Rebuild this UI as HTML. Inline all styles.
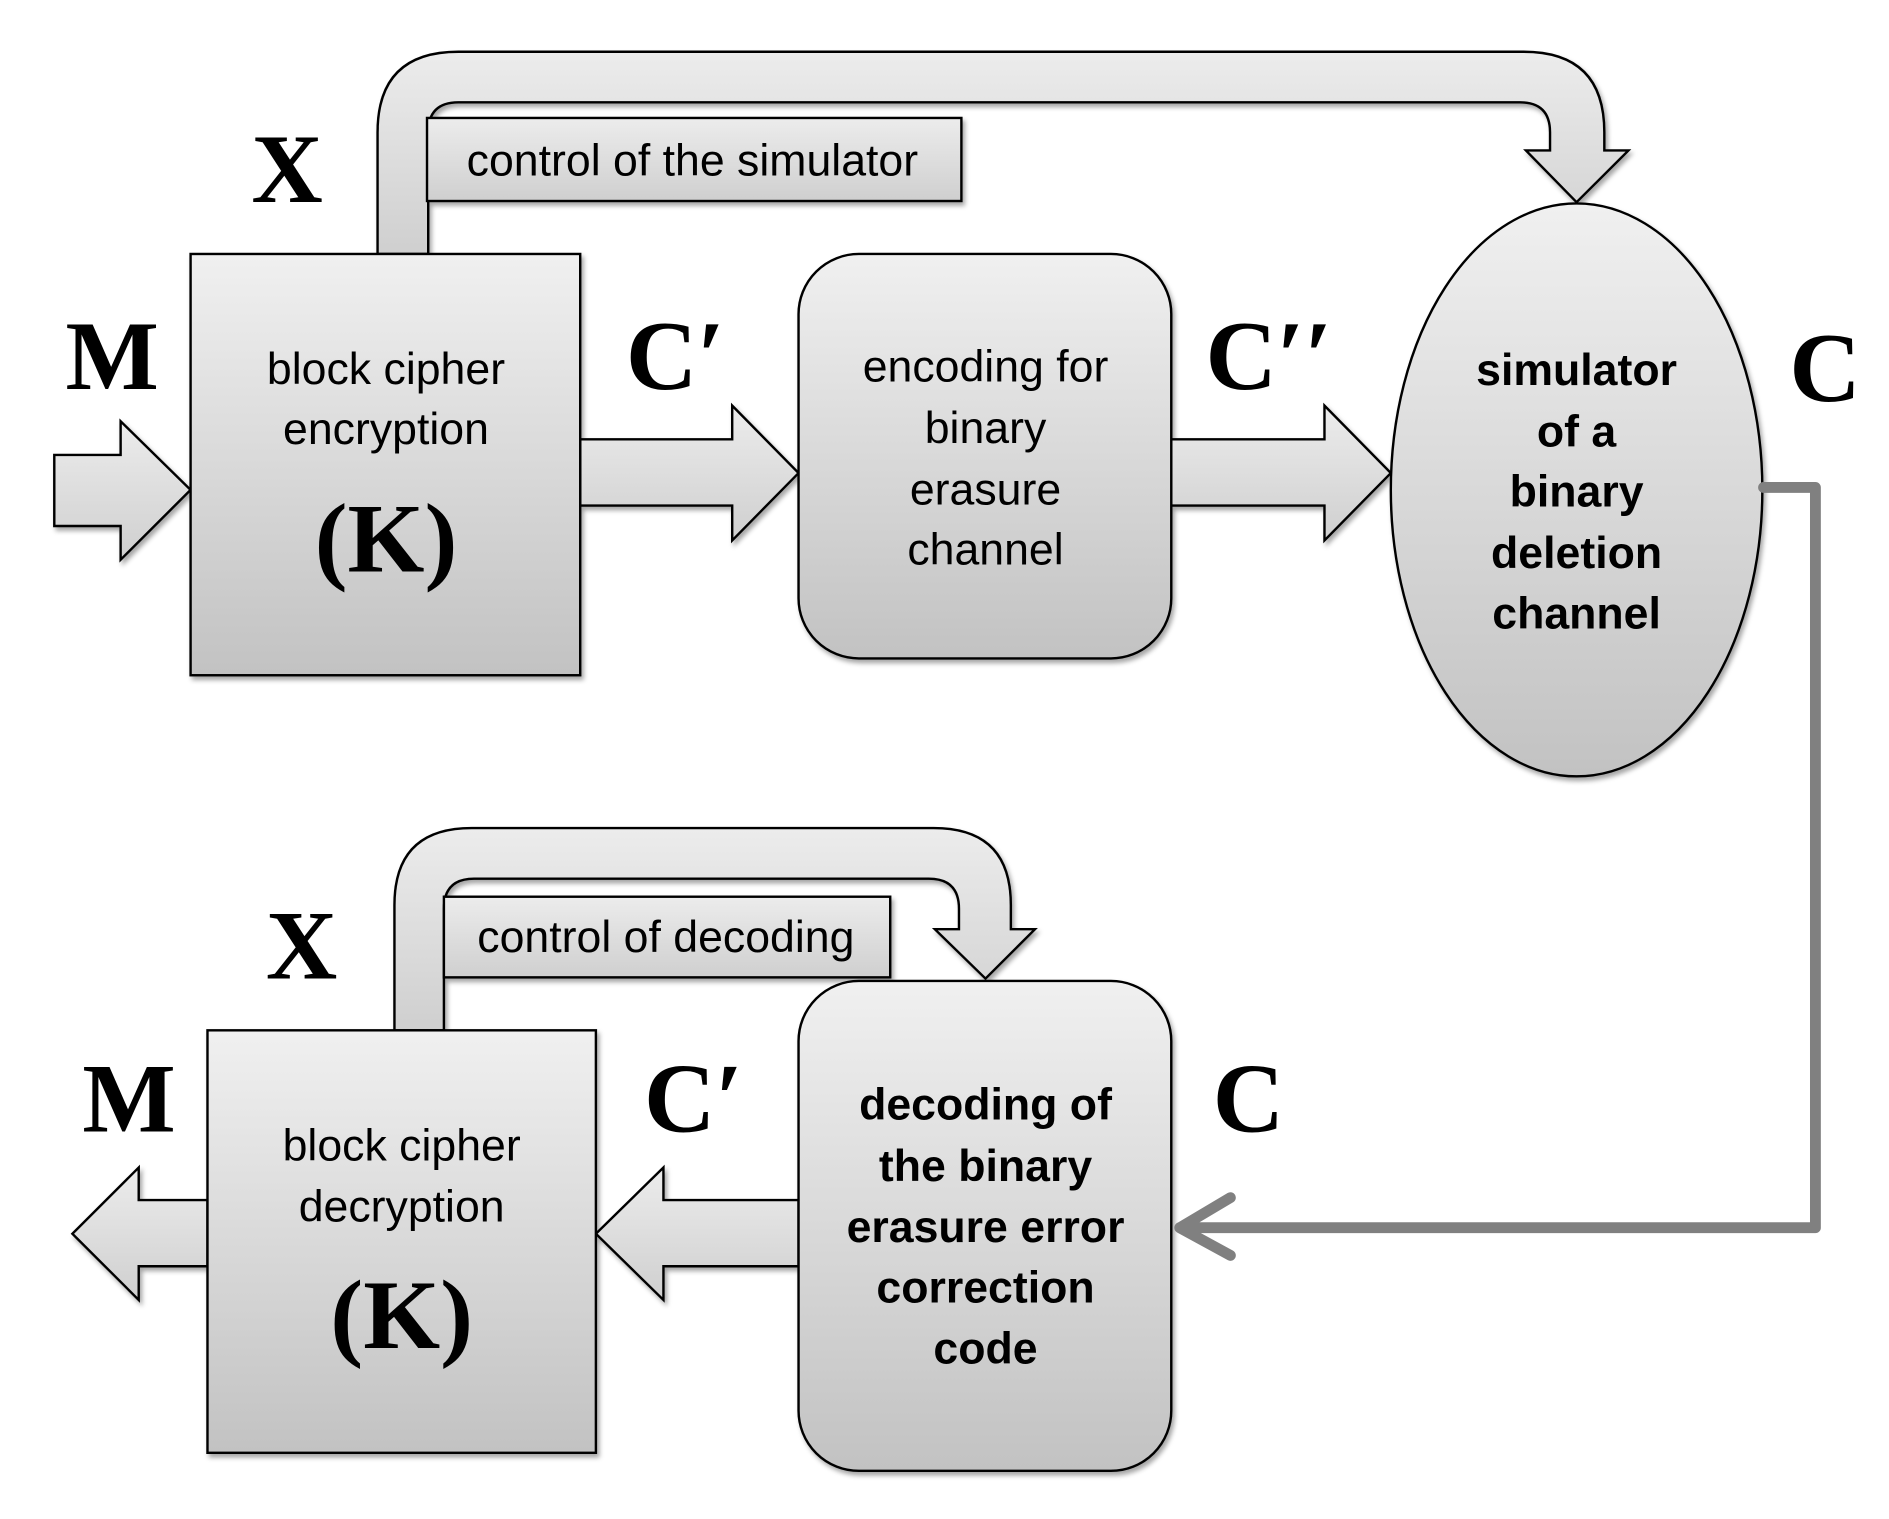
<!DOCTYPE html>
<html><head><meta charset="utf-8"><style>html,body{margin:0;padding:0;background:#fff;overflow:hidden}svg{display:block}</style></head>
<body>
<svg width="1889" height="1519" viewBox="0 0 1566 1262" preserveAspectRatio="none" xmlns="http://www.w3.org/2000/svg">
<defs>
<linearGradient id="g" x1="0" y1="0" x2="0" y2="1"><stop offset="0" stop-color="#f0f0f0"/><stop offset="1" stop-color="#c2c2c2"/></linearGradient>
<linearGradient id="ga" x1="0" y1="0" x2="0" y2="1"><stop offset="0" stop-color="#ececec"/><stop offset="1" stop-color="#cfcfcf"/></linearGradient>
<filter id="s" x="-10%" y="-10%" width="130%" height="130%"><feDropShadow dx="2" dy="3" stdDeviation="2" flood-color="#000" flood-opacity="0.35"/></filter>
</defs>
<g stroke="#000" stroke-width="2" filter="url(#s)">
<path d="M313,211 L313,110 Q313,43 380,43 L1263,43 Q1330,43 1330,110 L1330,125 L1350,125 L1307,168 L1265,125 L1285,125 L1285,110 Q1285,85 1260,85 L380,85 Q355,85 355,110 L355,211 Z" fill="url(#ga)"/>
<rect x="354" y="98" width="443" height="69" fill="url(#ga)"/>
<path d="M45,378 L100,378 L100,350 L158,407 L100,465 L100,437 L45,437 Z" fill="url(#ga)"/>
<path d="M481,365 L607,365 L607,337 L662,393 L607,449 L607,420 L481,420 Z" fill="url(#ga)"/>
<path d="M971,365 L1098,365 L1098,337 L1153,393 L1098,449 L1098,420 L971,420 Z" fill="url(#ga)"/>
<rect x="158" y="211" width="323" height="350" fill="url(#g)"/>
<rect x="662" y="211" width="309" height="336" rx="50" fill="url(#g)"/>
<ellipse cx="1307" cy="407" rx="154" ry="238" fill="url(#g)"/>
<path d="M327,856 L327,752 Q327,688 391,688 L774,688 Q838,688 838,752 L838,772 L858,772 L817,813 L775,772 L795,772 L795,755 Q795,730 770,730 L393,730 Q368,730 368,755 L368,856 Z" fill="url(#ga)"/>
<rect x="368" y="745" width="370" height="67" fill="url(#ga)"/>
<path d="M662,997 L550,997 L550,970 L494,1025 L550,1080 L550,1052 L662,1052 Z" fill="url(#ga)"/>
<path d="M172,997 L115,997 L115,970 L60,1025 L115,1080 L115,1052 L172,1052 Z" fill="url(#ga)"/>
<rect x="172" y="856" width="322" height="351" fill="url(#g)"/>
<rect x="662" y="815" width="309" height="407" rx="50" fill="url(#g)"/>
</g>
<path d="M1462,405 L1505,405 L1505,1020 L978,1020 M1020,995 L978,1020 L1020,1043" fill="none" stroke="#808080" stroke-width="9" stroke-linejoin="round" stroke-linecap="round"/>
<g font-family="'Liberation Sans',sans-serif" font-size="37" text-anchor="middle" fill="#000">
<text x="574" y="146">control of the simulator</text>
<text x="552" y="791">control of decoding</text>
<text x="320" y="319">block cipher</text>
<text x="320" y="369">encryption</text>
<text x="817" y="317">encoding for</text>
<text x="817" y="368">binary</text>
<text x="817" y="419">erasure</text>
<text x="817" y="469">channel</text>
<text x="333" y="964">block cipher</text>
<text x="333" y="1015">decryption</text>
<g font-weight="bold">
<text x="1307" y="320">simulator</text>
<text x="1307" y="371">of a</text>
<text x="1307" y="421">binary</text>
<text x="1307" y="472">deletion</text>
<text x="1307" y="522">channel</text>
<text x="817" y="930">decoding of</text>
<text x="817" y="981">the binary</text>
<text x="817" y="1032">erasure error</text>
<text x="817" y="1082">correction</text>
<text x="817" y="1133">code</text>
</g>
</g>
<g font-family="'Liberation Serif',serif" font-weight="bold" font-size="82" text-anchor="middle" fill="#000">
<text x="320" y="475">(K)</text>
<text x="333" y="1120">(K)</text>
<text x="238" y="168">X</text>
<text x="250" y="813">X</text>
<text x="93" y="323">M</text>
<text x="107" y="940">M</text>
<text x="560" y="323">C′</text>
<text x="1052" y="323">C′′</text>
<text x="1513" y="333">C</text>
<text x="575" y="940">C′</text>
<text x="1035" y="940">C</text>
</g>
</svg>
</body></html>
